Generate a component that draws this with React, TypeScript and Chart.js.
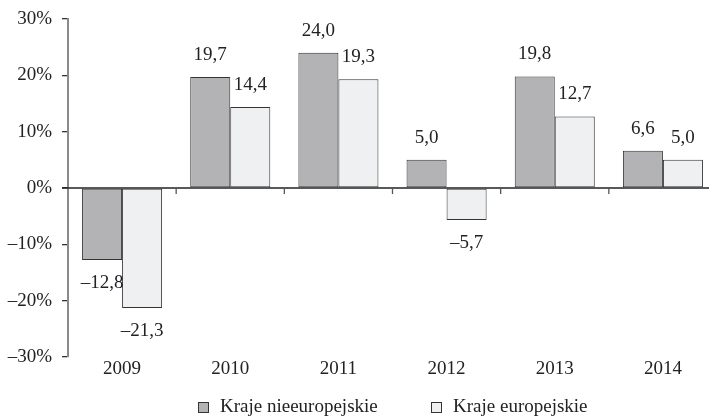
import React, { useEffect, useRef } from "react";
import { Chart, registerables } from "chart.js";

Chart.register(...registerables);

const years = ["2009", "2010", "2011", "2012", "2013", "2014"];
const nonEuropean = [-12.8, 19.7, 24.0, 5.0, 19.8, 6.6];
const european = [-21.3, 14.4, 19.3, -5.7, 12.7, 5.0];
const seriesNames = ["Kraje nieeuropejskie", "Kraje europejskie"];
const yTicks = [-30, -20, -10, 0, 10, 20, 30];

const FONT = "'Liberation Serif', 'Times New Roman', serif";
const FS = 19;
const GRAY = "#b3b3b6";
const LIGHT = "#eff0f2";
const EDGE = "#333333";

const fmt = (v: number) => (v < 0 ? "\u2013" : "") + Math.abs(v).toFixed(1).replace(".", ",");

const decorPlugin = {
  id: "decor",
  afterDatasetsDraw(chart: any) {
    const ctx = chart.ctx;
    const area = chart.chartArea;
    const x = chart.scales.x;
    const y = chart.scales.y;
    const y0 = y.getPixelForValue(0);
    ctx.save();
    // zero line
    ctx.strokeStyle = "#222";
    ctx.lineWidth = 1.3;
    ctx.beginPath();
    ctx.moveTo(area.left - 6, y0);
    ctx.lineTo(area.right, y0);
    ctx.stroke();
    // category ticks
    ctx.strokeStyle = "#555";
    ctx.lineWidth = 1.3;
    const n = years.length;
    for (let i = 1; i < n; i++) {
      const bx = (x.getPixelForValue(i - 1) + x.getPixelForValue(i)) / 2;
      ctx.beginPath();
      ctx.moveTo(bx, y0);
      ctx.lineTo(bx, y0 + 6);
      ctx.stroke();
    }
    // data labels
    ctx.fillStyle = "#222";
    ctx.font = `${FS}px ${FONT}`;
    ctx.textAlign = "center";
    ctx.textBaseline = "middle";
    chart.data.datasets.forEach((ds: any, di: number) => {
      const meta = chart.getDatasetMeta(di);
      meta.data.forEach((bar: any, i: number) => {
        const v = ds.data[i];
        const ly = v >= 0 ? bar.y - 22 : bar.y + 23;
        ctx.fillText(fmt(v), bar.x, ly);
      });
    });
    // legend
    const items = [
      { x: 198, color: GRAY, text: seriesNames[0] },
      { x: 431, color: LIGHT, text: seriesNames[1] },
    ];
    ctx.textAlign = "left";
    items.forEach((it) => {
      ctx.fillStyle = it.color;
      ctx.fillRect(it.x + 0.5, 402.5, 10, 10);
      ctx.strokeStyle = EDGE;
      ctx.lineWidth = 1;
      ctx.strokeRect(it.x + 0.5, 402.5, 10, 10);
      ctx.fillStyle = "#222";
      ctx.fillText(it.text, it.x + 22, 407);
    });
    ctx.restore();
  },
};

export default function App() {
  const ref = useRef<HTMLCanvasElement>(null);
  useEffect(() => {
    if (!ref.current) return;
    const chart = new Chart(ref.current, {
      type: "bar",
      data: {
        labels: years,
        datasets: [
          {
            label: seriesNames[0],
            data: nonEuropean,
            backgroundColor: GRAY,
            borderColor: EDGE,
            borderWidth: 1,
            borderSkipped: false,
            categoryPercentage: 0.74,
            barPercentage: 1,
          },
          {
            label: seriesNames[1],
            data: european,
            backgroundColor: LIGHT,
            borderColor: EDGE,
            borderWidth: 1,
            borderSkipped: false,
            categoryPercentage: 0.74,
            barPercentage: 1,
          },
        ],
      },
      options: {
        responsive: false,
        animation: false,
        layout: { padding: { top: 19, right: 0, bottom: 0, left: 0 } },
        plugins: { legend: { display: false }, tooltip: { enabled: false } },
        scales: {
          x: {
            grid: { display: false, drawTicks: false },
            border: { display: false },
            ticks: { color: "#222", font: { family: FONT, size: FS }, padding: 1 },
            afterFit: (s: any) => {
              s.height = 60;
              s.paddingLeft = 0;
              s.paddingRight = 0;
            },
          },
          y: {
            min: -30,
            max: 30,
            afterBuildTicks: (s: any) => {
              s.ticks = yTicks.map((v) => ({ value: v }));
            },
            grid: { drawOnChartArea: false, drawTicks: true, tickLength: 6, color: "#333", lineWidth: 1.3 },
            border: { display: true, color: "#8a8a8a", width: 2 },
            ticks: {
              color: "#222",
              font: { family: FONT, size: FS },
              padding: 10,
              callback: (v: any) => (v < 0 ? "\u2013" + Math.abs(v) : String(v)) + "%",
            },
            afterFit: (s: any) => {
              s.width = 68;
              s.paddingTop = 0;
              s.paddingBottom = 0;
            },
          },
        },
      },
      plugins: [decorPlugin],
    });
    return () => chart.destroy();
  }, []);
  return (
    <div style={{ position: "fixed", left: 0, top: 0, width: 709, height: 417, overflow: "hidden", background: "#fff" }}>
      <canvas ref={ref} width={717} height={417} style={{ display: "block", width: 717, height: 417 }} />
    </div>
  );
}
